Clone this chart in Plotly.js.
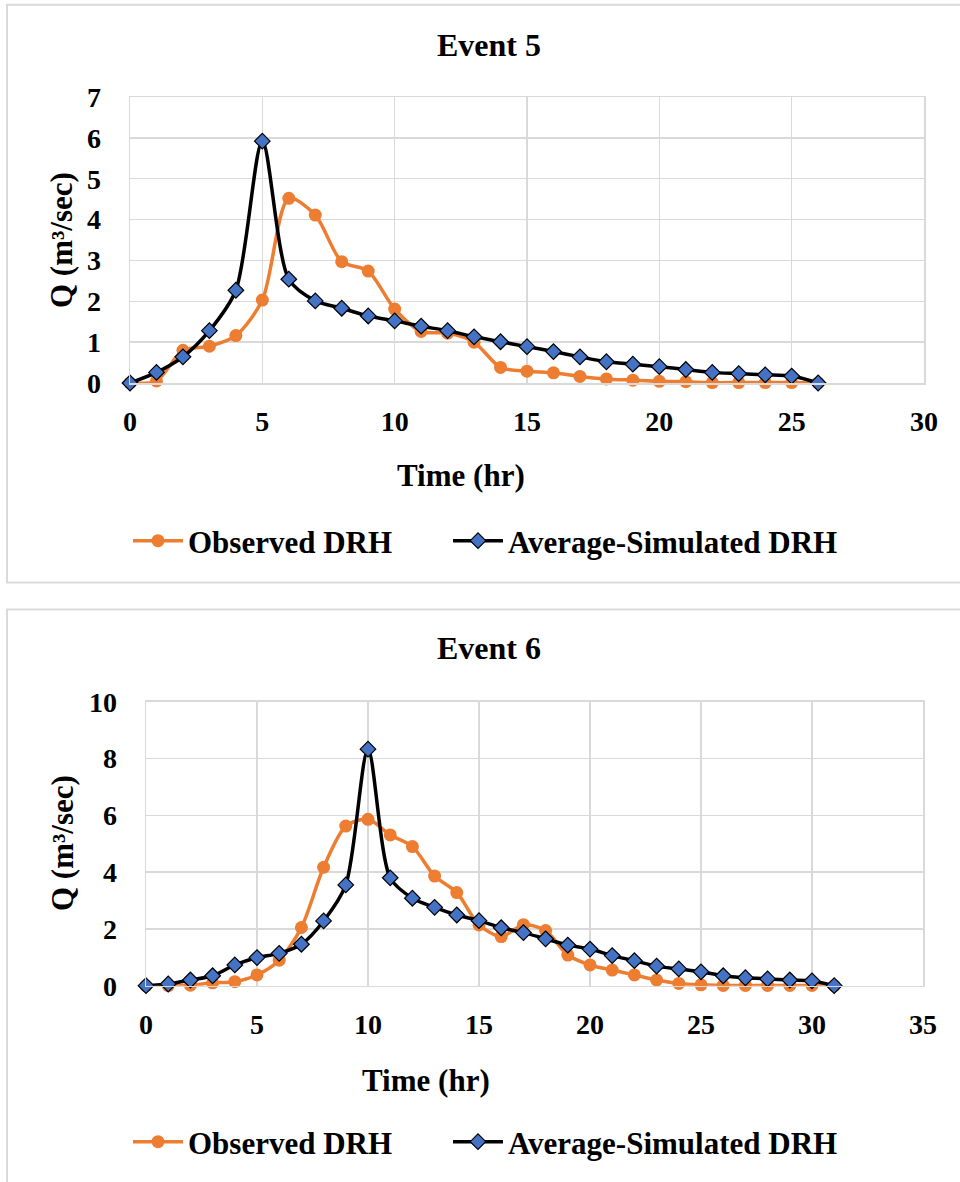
<!DOCTYPE html>
<html>
<head>
<meta charset="utf-8">
<script src="https://cdn.plot.ly/plotly-3.0.1.min.js"></script>
<style>
html,body{margin:0;padding:0;background:#fff;}
#chart{width:960px;height:1182px;}
</style>
</head>
<body>
<div id="chart"></div>
<script>
// ---- Data ----
const time5 = [0,1,2,3,4,5,6,7,8,9,10,11,12,13,14,15,16,17,18,19,20,21,22,23,24,25,26];
const observed5 = [0,0.05,0.8,0.9,1.16,2.03,4.52,4.11,2.97,2.74,1.81,1.26,1.22,1.0,0.38,0.29,0.25,0.16,0.1,0.07,0.04,0.03,0.01,0.01,0.01,0.01,0];
const simulated5 = [0,0.26,0.64,1.28,2.27,5.92,2.54,2.01,1.83,1.64,1.52,1.39,1.28,1.13,1.01,0.89,0.77,0.64,0.52,0.46,0.4,0.33,0.26,0.23,0.2,0.17,0];

const time6 = [0,1,2,3,4,5,6,7,8,9,10,11,12,13,14,15,16,17,18,19,20,21,22,23,24,25,26,27,28,29,30,31];
const observed6 = [0,0,0.02,0.1,0.14,0.38,0.9,2.05,4.17,5.62,5.86,5.31,4.9,3.86,3.28,2.14,1.73,2.15,1.94,1.08,0.73,0.55,0.38,0.2,0.08,0.03,0.01,0.01,0.01,0.01,0.01,0];
const simulated6 = [0,0.06,0.2,0.35,0.73,0.99,1.14,1.46,2.28,3.55,8.33,3.8,3.08,2.76,2.49,2.29,2.04,1.87,1.65,1.43,1.29,1.06,0.88,0.69,0.59,0.49,0.35,0.28,0.24,0.2,0.17,0];

const seriesNames = ["Observed DRH", "Average-Simulated DRH"];
const chartTitles = ["Event 5", "Event 6"];
const xTitle = "Time (hr)";
const yTitle = "Q (m³/sec)";

// ---- Styling ----
const W = 960, H = 1182;
const px = v => v / W;
const py = v => 1 - v / H;
const FONT = "'Liberation Serif', 'Times New Roman', serif";
const ORANGE = "#ED7D31";
const BLUE = "#4472C4";
const GRID = "#d9d9d9";

function obsTrace(x, y, xa, ya, leg) {
  return {
    type: "scatter", mode: "lines+markers", name: seriesNames[0],
    x: x, y: y, xaxis: xa, yaxis: ya, legend: leg,
    line: {color: ORANGE, width: 3.5, shape: "spline", smoothing: 0.8},
    marker: {symbol: "circle", size: 13, color: ORANGE},
    cliponaxis: false, hoverinfo: "x+y"
  };
}
function simTrace(x, y, xa, ya, leg) {
  return {
    type: "scatter", mode: "lines+markers", name: seriesNames[1],
    x: x, y: y, xaxis: xa, yaxis: ya, legend: leg,
    line: {color: "#000000", width: 3.5, shape: "spline", smoothing: 0.8},
    marker: {symbol: "diamond", size: 12, color: BLUE, line: {color: "#000000", width: 1.2}},
    cliponaxis: false, hoverinfo: "x+y"
  };
}

const traces = [
  obsTrace(time5, observed5, "x", "y", "legend"),
  simTrace(time5, simulated5, "x", "y", "legend2"),
  obsTrace(time6, observed6, "x2", "y2", "legend3"),
  simTrace(time6, simulated6, "x2", "y2", "legend4")
];

const tickFont = {family: FONT, size: 28, color: "#000", weight: 700};
const textFont = {family: FONT, size: 31, color: "#000", weight: 700};
const titleFont = {family: FONT, size: 32, color: "#000", weight: 700};

function xAxis(domain, range, anchor) {
  return {
    domain: domain, range: range, dtick: 5, tick0: 0, anchor: anchor,
    showgrid: true, gridcolor: GRID, gridwidth: 1.5,
    zeroline: false, showline: true, linecolor: GRID, linewidth: 1.5, mirror: true,
    ticks: "", tickfont: tickFont, ticklabelstandoff: 13, fixedrange: true
  };
}
function yAxis(domain, range, dtick, anchor) {
  return {
    domain: domain, range: range, dtick: dtick, tick0: 0, anchor: anchor,
    showgrid: true, gridcolor: GRID, gridwidth: 1.5,
    zeroline: false, showline: true, linecolor: GRID, linewidth: 1.5, mirror: true,
    ticks: "", tickfont: tickFont, ticklabelstandoff: 22, fixedrange: true
  };
}

function legendAt(x, y) {
  return {
    orientation: "h", xanchor: "left", yanchor: "middle",
    x: px(x), y: py(y),
    font: textFont, bgcolor: "rgba(0,0,0,0)", itemwidth: 50
  };
}

function ann(text, x, y, extra) {
  return Object.assign({
    text: text, x: px(x), y: py(y), xref: "paper", yref: "paper",
    xanchor: "center", yanchor: "middle", showarrow: false, font: textFont
  }, extra || {});
}

const layout = {
  width: W, height: H,
  margin: {l: 0, r: 0, t: 0, b: 0},
  paper_bgcolor: "#fff", plot_bgcolor: "#fff",
  showlegend: true,
  xaxis: xAxis([px(130), px(924)], [0, 30], "y"),
  yaxis: yAxis([py(383), py(97)], [0, 7], 1, "x"),
  xaxis2: xAxis([px(146), px(923)], [0, 35], "y2"),
  yaxis2: yAxis([py(985.7), py(701.7)], [0, 10], 2, "x2"),
  legend: legendAt(128, 541),
  legend2: legendAt(448, 541),
  legend3: legendAt(128, 1142),
  legend4: legendAt(448, 1142),
  annotations: [
    ann(chartTitles[0], 489, 45, {font: titleFont}),
    ann(xTitle, 461, 475),
    ann(yTitle, 62, 240, {textangle: -90}),
    ann(chartTitles[1], 489, 648, {font: titleFont}),
    ann(xTitle, 426, 1080),
    ann(yTitle, 62, 843, {textangle: -90})
  ],
  shapes: [
    {type: "rect", xref: "paper", yref: "paper", x0: px(7), x1: px(975), y0: py(582.5), y1: py(4.7),
     line: {color: GRID, width: 2}, fillcolor: "rgba(0,0,0,0)", layer: "below"},
    {type: "rect", xref: "paper", yref: "paper", x0: px(7), x1: px(975), y0: py(1195), y1: py(609.5),
     line: {color: GRID, width: 2}, fillcolor: "rgba(0,0,0,0)", layer: "below"}
  ]
};

Plotly.newPlot("chart", traces, layout, {displayModeBar: false, staticPlot: true});
</script>
</body>
</html>
